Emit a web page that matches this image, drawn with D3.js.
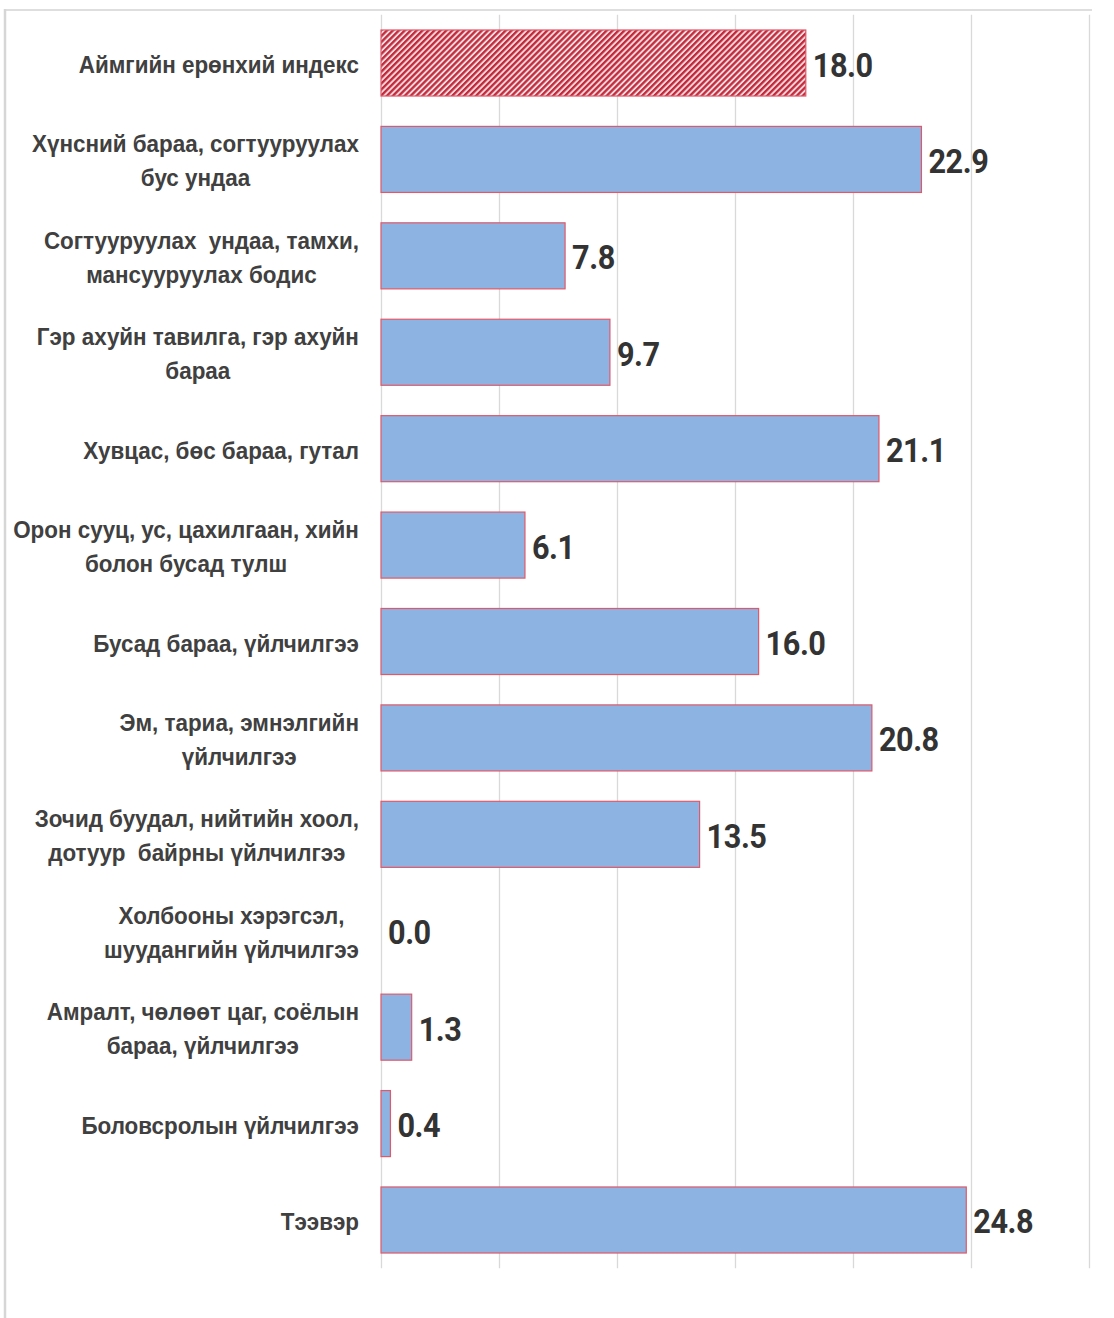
<!DOCTYPE html>
<html>
<head>
<meta charset="utf-8">
<script src="https://cdn.jsdelivr.net/npm/d3@7"></script>
<style>
  html, body { margin: 0; padding: 0; background: #fff; }
  svg { display: block; }
  text.cat { white-space: pre; }
</style>
</head>
<body>
<svg id="chart" width="1114" height="1318"></svg>
<script>
// ---- data ----
const categories = [
  ["Аймгийн ерөнхий индекс"],
  ["Хүнсний бараа, согтууруулах", "бус ундаа"],
  ["Согтууруулах  ундаа, тамхи,", "мансууруулах бодис"],
  ["Гэр ахуйн тавилга, гэр ахуйн", "бараа"],
  ["Хувцас, бөс бараа, гутал"],
  ["Орон сууц, ус, цахилгаан, хийн", "болон бусад тулш"],
  ["Бусад бараа, үйлчилгээ"],
  ["Эм, тариа, эмнэлгийн", "үйлчилгээ"],
  ["Зочид буудал, нийтийн хоол,", "дотуур  байрны үйлчилгээ"],
  ["Холбооны хэрэгсэл,", "шуудангийн үйлчилгээ"],
  ["Амралт, чөлөөт цаг, соёлын", "бараа, үйлчилгээ"],
  ["Боловсролын үйлчилгээ"],
  ["Тээвэр"]
];
const values = [18.0, 22.9, 7.8, 9.7, 21.1, 6.1, 16.0, 20.8, 13.5, 0.0, 1.3, 0.4, 24.8];
const highlighted = [true, false, false, false, false, false, false, false, false, false, false, false, false];
const xTicks = [0, 5, 10, 15, 20, 25, 30];

// ---- layout ----
const svg = d3.select("#chart");
const plotL = 381, plotR = 1089, plotT = 14.8, plotB = 1268.2;
const x = d3.scaleLinear().domain([0, 30]).range([plotL, plotR]);
const y = d3.scaleBand().domain(d3.range(categories.length)).range([plotT, plotB]).paddingInner(0.315).paddingOuter(0.1575);

// hatch pattern
const defs = svg.append("defs");
const pat = defs.append("pattern").attr("id", "hatch").attr("patternUnits", "userSpaceOnUse")
  .attr("width", 4.2).attr("height", 4.2).attr("patternTransform", "rotate(45)");
pat.append("rect").attr("width", 4.2).attr("height", 4.2).attr("fill", "#f6dcdf");
pat.append("rect").attr("width", 2.3).attr("height", 4.2).attr("fill", "#c22a3c");

// frame
svg.append("line").attr("x1", 5).attr("x2", 1092).attr("y1", 10).attr("y2", 10)
  .attr("stroke", "#dedede").attr("stroke-width", 2);
svg.append("line").attr("x1", 5).attr("x2", 5).attr("y1", 9).attr("y2", 1318)
  .attr("stroke", "#d6d6d6").attr("stroke-width", 2.5);

// gridlines via axis
const grid = svg.append("g").attr("transform", `translate(0,${plotB})`)
  .call(d3.axisBottom(x).tickValues(xTicks).tickSize(-(plotB - plotT)).tickFormat(""));
grid.select(".domain").remove();
grid.selectAll(".tick line").attr("stroke", "#d9d9d9").attr("stroke-width", 1.3);

// bars
svg.append("g").selectAll("rect").data(values).join("rect")
  .attr("x", x(0))
  .attr("y", (d, i) => y(i))
  .attr("width", d => x(d) - x(0))
  .attr("height", y.bandwidth())
  .attr("fill", (d, i) => highlighted[i] ? "url(#hatch)" : "#8db3e2")
  .attr("stroke", (d, i) => d > 0 ? "#e0596a" : "none")
  .attr("stroke-width", 1.2);

// value labels
const sx = 0.93;
svg.append("g").selectAll("text").data(values).join("text")
  .attr("transform", (d, i) => `translate(${x(d) + 7},${y(i) + y.bandwidth() / 2 + 13.5}) scale(${sx},1)`)
  .attr("font-family", "Roboto, 'DejaVu Sans', sans-serif")
  .attr("font-weight", 700)
  .attr("font-size", 33)
  .attr("fill", "#333333")
  .attr("letter-spacing", -0.5)
  .text(d => d.toFixed(1));

// category labels
const lsx = 0.915;
const labelRight = 359;
const lg = svg.append("g");
categories.forEach((lines, i) => {
  const cy = y(i) + y.bandwidth() / 2;
  const g = lg.append("g");
  const texts = lines.map((t, k) => g.append("text")
    .attr("class", "cat")
    .attr("font-family", "'Liberation Sans', Arial, sans-serif")
    .attr("font-weight", 700)
    .attr("font-size", 24.5)
    .attr("fill", "#404040")
    .attr("text-anchor", "middle")
    .attr("x", 0)
    .attr("y", (k - (lines.length - 1) / 2) * 34 + 9)
    .text(t));
  const maxW = d3.max(texts, t => t.node().getComputedTextLength()) * lsx;
  g.attr("transform", `translate(${labelRight - maxW / 2},${cy + 1}) scale(${lsx},1)`);
});
</script>
</body>
</html>
